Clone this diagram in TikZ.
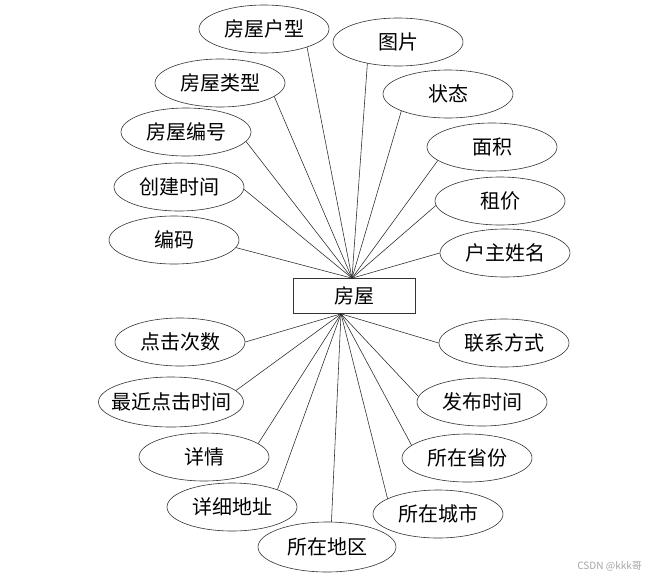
\documentclass[tikz,border=0pt]{standalone}
\usepackage{fontspec}
\newfontfamily\cjk{Noto Sans CJK SC}
\usetikzlibrary{shapes.geometric}
\begin{document}
\begin{tikzpicture}[x=1pt,y=-1pt,
  attr/.style={ellipse,draw=black!80,line width=0.6pt,inner sep=0pt,
    minimum width=130pt,minimum height=48pt,font=\cjk\fontsize{20}{24}\selectfont},
  ent/.style={rectangle,draw=black!80,line width=0.7pt,minimum width=122pt,
    minimum height=35pt,inner sep=0pt,font=\cjk\fontsize{20}{24}\selectfont},
  link/.style={draw=black!85,line width=0.55pt}]
\useasboundingbox (0,0) rectangle (660,582);
\fill[white] (0,0) rectangle (660,582);

\node[ent] (r) at (354,296) {房屋};
\coordinate (top) at ([xshift=-2pt]r.north);
\coordinate (bot) at ([xshift=-13pt]r.south);

% upper attributes
\node[attr] (a1) at (264,29) {\makebox[0pt]{房屋户型}};
\node[attr] (a2) at (220,83) {\makebox[0pt]{房屋类型}};
\node[attr] (a3) at (186,132) {\makebox[0pt]{房屋编号}};
\node[attr] (a4) at (179,187) {\makebox[0pt]{创建时间}};
\node[attr] (a5) at (174,240) {\makebox[0pt]{编码}};
\node[attr] (b1) at (398,42) {\makebox[0pt]{图片}};
\node[attr] (b2) at (448,94) {\makebox[0pt]{状态}};
\node[attr] (b3) at (492,147) {\makebox[0pt]{面积}};
\node[attr] (b4) at (500,201) {\makebox[0pt]{租价}};
\node[attr] (b5) at (505,253) {\makebox[0pt]{户主姓名}};

% lower attributes
\node[attr] (c1) at (180,342) {\makebox[0pt]{点击次数}};
\node[attr,minimum width=145pt,minimum height=50pt] (c2) at (171,402) {\makebox[0pt]{最近点击时间}};
\node[attr] (c3) at (204,457) {\makebox[0pt]{详情}};
\node[attr] (c4) at (232,507) {\makebox[0pt]{详细地址}};
\node[attr,minimum width=138pt,minimum height=50pt] (c5) at (327,547) {\makebox[0pt]{所在地区}};
\node[attr] (d1) at (504,343) {\makebox[0pt]{联系方式}};
\node[attr] (d2) at (482,402) {\makebox[0pt]{发布时间}};
\node[attr] (d3) at (467,458) {\makebox[0pt]{所在省份}};
\node[attr] (d4) at (438,514) {\makebox[0pt]{所在城市}};

% connectors
\draw[link] (top) -- (a1.-23);
\draw[link] (top) -- (a2.-14);
\draw[link] (top) -- (a3.-9);
\draw[link] (top) -- (a4.-2);
\draw[link] (top) -- (a5.-7);
\draw[link] (top) -- (b1.215);
\draw[link] (top) -- (b2.200);
\draw[link] (top) -- (b3.194);
\draw[link] (top) -- (b4.184);
\draw[link] (top) -- (b5.180);

\draw[link] (bot) -- (c1.0);
\draw[link] (bot) -- (c2.10);
\draw[link] (bot) -- (c3.14);
\draw[link] (bot) -- (c4.21);
\draw[link] (bot) -- (c5.80);
\draw[link] (bot) -- (d1.180);
\draw[link] (bot) -- (d2.175);
\draw[link] (bot) -- (d3.167);
\draw[link] (bot) -- (d4.163);

\node[font=\cjk\fontsize{10}{12}\selectfont,text=black!35,anchor=east,inner sep=0pt] (wm) at (642,566) {CSDN @kkk哥};
\end{tikzpicture}
\end{document}
